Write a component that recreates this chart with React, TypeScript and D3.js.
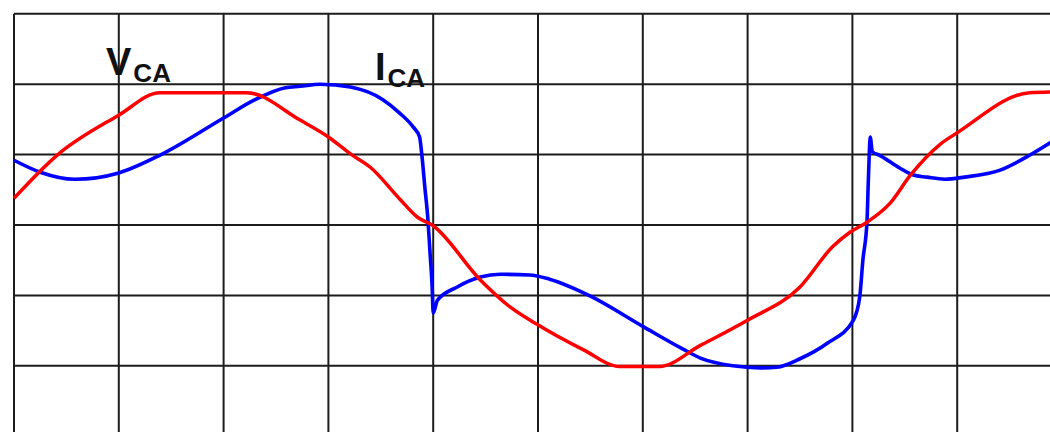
import * as d3 from "d3"
import { useEffect, useRef } from "react"

// grid divisions
const GRID_X = [0, 1, 2, 3, 4, 5, 6, 7, 8, 9]
const GRID_Y = [3, 2, 1, 0, -1, -2]

// V_CA trace (x in divisions, y in divisions)
const VCA_X = [0, 0.41, 1.0, 1.39, 2.22, 2.73, 3.01, 3.21, 3.4, 3.68, 3.85, 3.99, 4.45, 4.73, 4.99, 5.43, 5.78, 6.16, 6.55, 6.99, 7.5, 7.81, 7.98, 8.14, 8.36, 8.55, 8.84, 9.0, 9.69, 9.9]
const VCA_Y = [0.38, 0.99, 1.56, 1.88, 1.88, 1.49, 1.24, 1.01, 0.82, 0.37, 0.11, 0, -0.78, -1.16, -1.41, -1.77, -2.01, -2.01, -1.71, -1.36, -0.88, -0.31, -0.1, 0.04, 0.31, 0.7, 1.15, 1.31, 1.88, 1.89]

// I_CA trace
const ICA_X = [0, 0.25, 0.58, 1.0, 1.39, 2.0, 2.3, 2.59, 2.73, 2.92, 3.21, 3.52, 3.68, 3.81, 3.87, 3.89, 3.92, 3.95, 3.97, 3.99, 4.0, 4.04, 4.23, 4.45, 4.64, 4.92, 5.11, 5.5, 6.0, 6.38, 6.55, 6.86, 7.12, 7.28, 7.5, 7.76, 8.01, 8.07, 8.1, 8.14, 8.15, 8.16, 8.17, 8.19, 8.26, 8.45, 8.58, 8.71, 8.88, 9.07, 9.41, 9.69, 9.9]
const ICA_Y = [0.92, 0.75, 0.65, 0.74, 0.99, 1.52, 1.78, 1.95, 1.97, 2.0, 1.96, 1.78, 1.59, 1.39, 1.25, 1.02, 0.54, 0.07, -0.4, -0.88, -1.25, -1.07, -0.88, -0.74, -0.7, -0.71, -0.77, -1.01, -1.44, -1.76, -1.89, -2.0, -2.03, -2.02, -1.9, -1.68, -1.35, -1.02, -0.5, 0.07, 0.54, 0.97, 1.25, 1.04, 0.99, 0.81, 0.71, 0.68, 0.65, 0.68, 0.78, 0.99, 1.18]

const W = 1050
const H = 432

export default function App() {
  const ref = useRef<SVGSVGElement | null>(null)

  useEffect(() => {
    if (!ref.current) return
    const svg = d3.select(ref.current)
    svg.selectAll("*").remove()

    const x = d3.scaleLinear().domain([0, 9]).range([14, 957.2])
    const y = d3.scaleLinear().domain([-3, 3]).range([436.2, 13.8])

    svg.append("rect").attr("width", W).attr("height", H).attr("fill", "#fff")

    const grid = svg.append("g").attr("stroke", "#1c1c1c").attr("stroke-width", 2)
    grid
      .selectAll("line.v")
      .data(GRID_X)
      .join("line")
      .attr("class", "v")
      .attr("x1", (d) => x(d))
      .attr("x2", (d) => x(d))
      .attr("y1", y(3))
      .attr("y2", H)
    grid
      .selectAll("line.h")
      .data(GRID_Y)
      .join("line")
      .attr("class", "h")
      .attr("x1", x(0))
      .attr("x2", W)
      .attr("y1", (d) => y(d))
      .attr("y2", (d) => y(d))

    const line = d3
      .line<[number, number]>()
      .x((d) => x(d[0]))
      .y((d) => y(d[1]))
      .curve(d3.curveMonotoneX)

    const vca = VCA_X.map((v, i) => [v, VCA_Y[i]] as [number, number])
    const ica = ICA_X.map((v, i) => [v, ICA_Y[i]] as [number, number])

    svg
      .append("path")
      .attr("d", line(ica))
      .attr("fill", "none")
      .attr("stroke", "#0000ff")
      .attr("stroke-width", 3.6)
      .attr("stroke-linejoin", "round")
    svg
      .append("path")
      .attr("d", line(vca))
      .attr("fill", "none")
      .attr("stroke", "#ff0000")
      .attr("stroke-width", 3.5)
      .attr("stroke-linejoin", "round")

    const label = (px: number, py: number, main: string) => {
      const t = svg
        .append("text")
        .attr("x", px)
        .attr("y", py)
        .attr("font-family", "Liberation Sans, Arial, sans-serif")
        .attr("font-weight", "bold")
        .attr("fill", "#111")
      t.append("tspan").attr("font-size", 38).text(main)
      t.append("tspan").attr("font-size", 26).attr("dx", 2).attr("dy", 7).text("CA")
    }
    label(106, 75, "V")
    label(375, 80, "I")
  }, [])

  return (
    <div style={{ position: "fixed", left: 0, top: 0 }}>
      <svg ref={ref} width={W} height={H} style={{ display: "block" }} />
    </div>
  )
}
